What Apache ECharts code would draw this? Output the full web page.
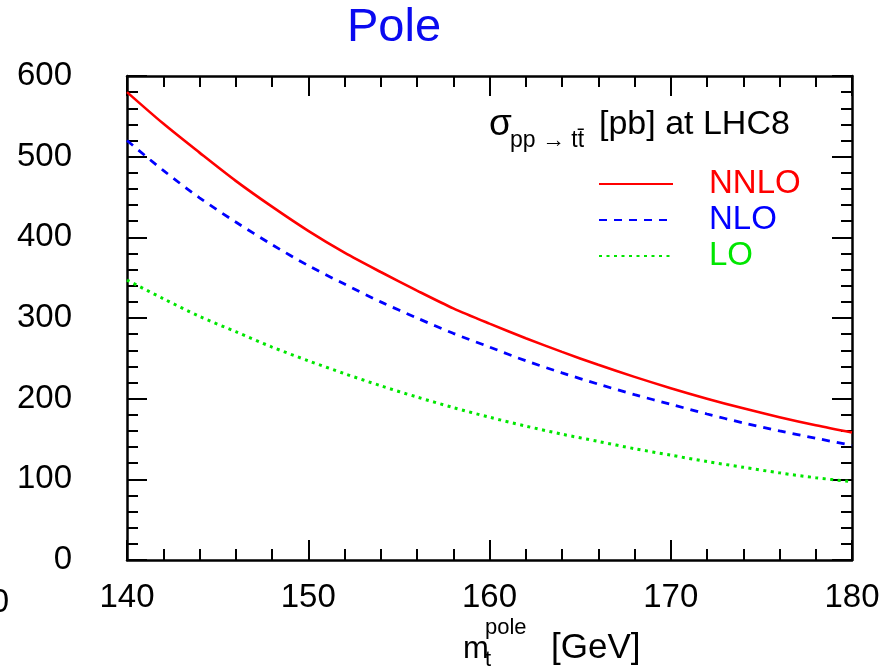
<!DOCTYPE html>
<html>
<head>
<meta charset="utf-8">
<script src="https://cdn.jsdelivr.net/npm/echarts@6/dist/echarts.min.js"></script>
<style>html,body{margin:0;padding:0;background:#fff;}#c{width:892px;height:672px;}</style>
</head>
<body>
<div id="c"></div>
<script>
var masses = [140,142,144,146,148,150,152,154,156,158,160,162,164,166,168,170,172,174,176,178,180];
var nnlo = [580,541,505,470,438,408,381,357,334,312,293,275,258,242,227,213,200,188,177,167,158];
var nlo  = [520,483,449,419,391,365,342,320,300,281,264,247,232,218,205,193,181,170,160,151,142];
var lo   = [347,324,302,283,264,247,231,216,202,189,177,166,156,147,138,130,122,115,108,102,97];
var seriesNames = ['NNLO','NLO','LO'];
var xTicks = {min:140, max:180, interval:10};
var yTicks = {min:0, max:600, interval:100};

function pairs(ys){ return masses.map(function(m,i){ return [m, ys[i]]; }); }
var FONT = '"Liberation Sans", Arial, sans-serif';
var RED = '#ff0000', BLUE = '#0000ff', GREEN = '#00e600';

function axisBase(extra){
  var a = {
    type:'value', scale:false,
    axisLine:{show:true, onZero:false, lineStyle:{color:'#000', width:2.5}},
    axisTick:{show:true, inside:true, length:20, lineStyle:{color:'#000', width:2}},
    minorTick:{show:true, splitNumber:5, length:11, lineStyle:{color:'#000', width:2}},
    splitLine:{show:false}, minorSplitLine:{show:false},
    axisLabel:{show:false}
  };
  for (var k in extra) a[k] = extra[k];
  return a;
}

function txt(s, x, y, size, extra){
  var st = {text:s, fontSize:size, fontFamily:FONT, fill:'#000', verticalAlign:'middle'};
  for (var k in (extra||{})) st[k] = extra[k];
  return {type:'text', x:x, y:y, style:st};
}

var chart = echarts.init(document.getElementById('c'), null, {renderer:'canvas'});
chart.setOption({
  animation:false,
  backgroundColor:'#fff',
  title:{text:'Pole', left:342, top:0, textStyle:{color:'#0a0af0', fontSize:47, fontWeight:'normal', fontFamily:FONT}},
  grid:{left:127, right:40, top:76, bottom:112},
  legend:{
    orient:'vertical', left:593, top:161, itemWidth:74, itemHeight:14, itemGap:0,
    itemStyle:{opacity:0, borderWidth:0},
    data:[
      {name:'NNLO', textStyle:{color:RED}},
      {name:'NLO', textStyle:{color:BLUE}},
      {name:'LO', textStyle:{color:GREEN}}
    ],
    textStyle:{fontSize:33, fontFamily:FONT, padding:[0,0,0,31], lineHeight:36}
  },
  xAxis:[
    axisBase({position:'bottom', min:xTicks.min, max:xTicks.max, interval:xTicks.interval,
      axisLabel:{show:true, margin:21, fontSize:33, color:'#000', fontFamily:FONT}}),
    axisBase({position:'top', min:xTicks.min, max:xTicks.max, interval:xTicks.interval})
  ],
  yAxis:[
    axisBase({position:'left', min:yTicks.min, max:yTicks.max, interval:yTicks.interval,
      axisLabel:{show:true, margin:55, fontSize:33, color:'#000', fontFamily:FONT}}),
    axisBase({position:'right', min:yTicks.min, max:yTicks.max, interval:yTicks.interval})
  ],
  series:[
    {name:seriesNames[0], type:'line', data:pairs(nnlo), smooth:0.3, symbol:'none', showSymbol:false,
      lineStyle:{color:RED, width:2.6}, itemStyle:{color:RED}},
    {name:seriesNames[1], type:'line', data:pairs(nlo), smooth:0.3, symbol:'none', showSymbol:false,
      lineStyle:{color:BLUE, width:2.8, type:[8,7]}, itemStyle:{color:BLUE}},
    {name:seriesNames[2], type:'line', data:pairs(lo), smooth:0.3, symbol:'none', showSymbol:false,
      lineStyle:{color:GREEN, width:3, type:[3,4.5]}, itemStyle:{color:GREEN}}
  ],
  graphic:[
    txt('σ', 489, 125, 37),
    txt('pp → tt̄', 510, 141, 23),
    txt('[pb] at LHC8', 599, 125, 34),
    txt('m', 463, 649, 31),
    txt('pole', 485, 628, 22),
    txt('t', 485, 660, 22),
    txt('[GeV]', 551, 648, 35),
    txt('0', 9, 603, 33, {align:'right'})
  ]
});
</script>
</body>
</html>
